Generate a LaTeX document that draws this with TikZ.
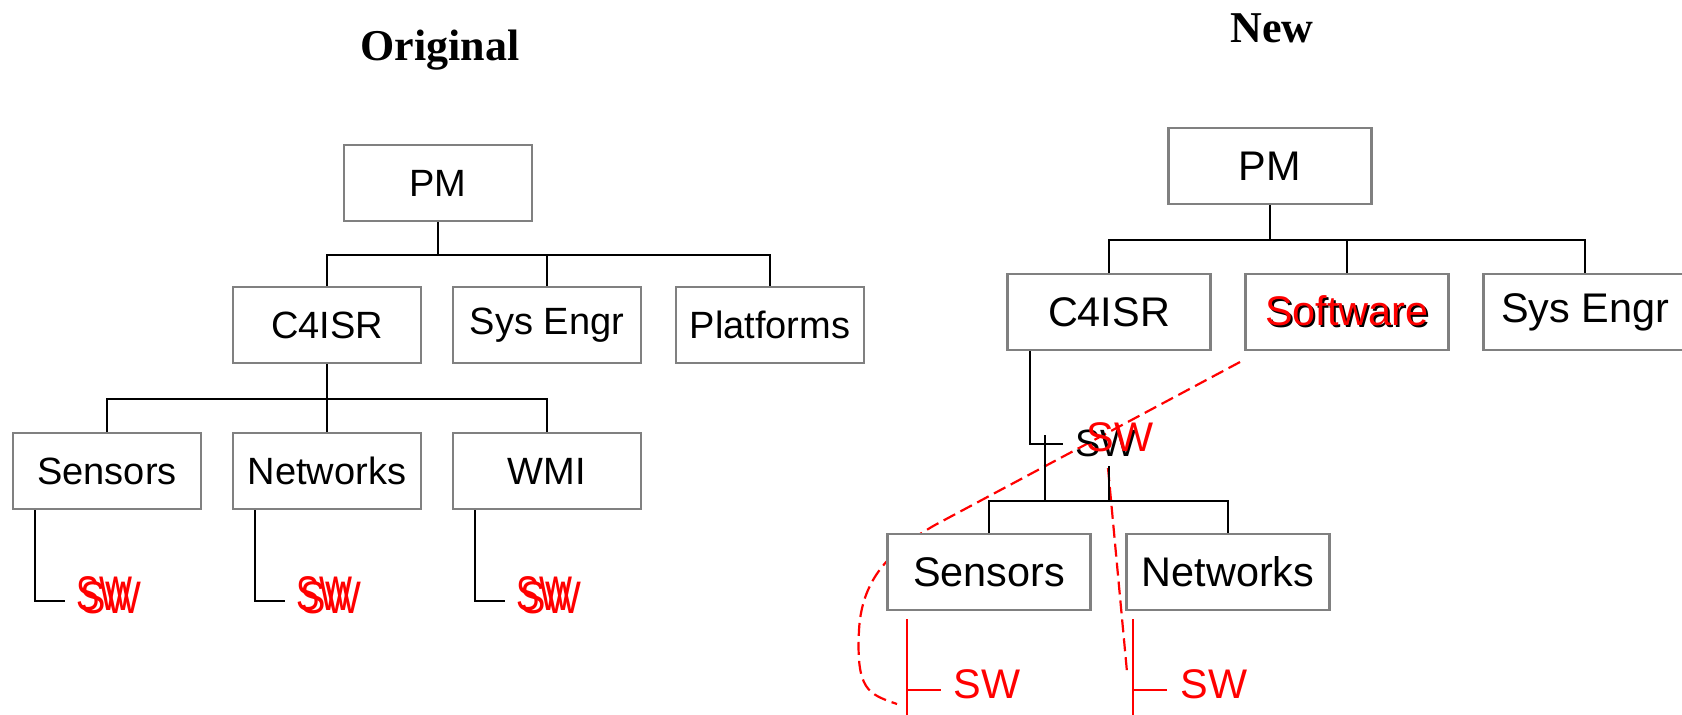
\documentclass[tikz,border=0pt]{standalone}
\usepackage{fontspec}
\setmainfont{Liberation Sans}
\newfontfamily\titlefont{Liberation Serif}
\usepackage{tikz}
\usetikzlibrary{calc}

\tikzset{
  orgbox/.style={draw=gray, line width=1.35pt, fill=white, minimum width=94pt, minimum height=38pt, inner sep=0pt, font=\fontsize{19}{22}\selectfont},
  orgboxnew/.style={orgbox, minimum width=101.5pt, font=\fontsize{20.7}{24}\selectfont},
  link/.style={line width=1pt},
  swline/.style={red, line width=1pt},
  swtext/.style={anchor=base west, inner sep=0pt, text=red, font=\fontsize{19}{22}\selectfont},
  swtextnew/.style={swtext, font=\fontsize{20.7}{24}\selectfont},
  lasso/.style={red, line width=1.1pt, dash pattern=on 6.5pt off 3pt},
  heading/.style={anchor=base, font=\titlefont\bfseries\fontsize{22}{26}\selectfont}
}

\begin{document}
\begin{tikzpicture}[x=0.5pt, y=-0.5pt]
\useasboundingbox (0,0) rectangle (1682,714);

% titles
\node[heading] (orig) at (440,60) {Original};
\node[heading] (new) at (1272,42) {New};

% original chart
\node[orgbox] (pm1) at (438,183) {PM};
\node[orgbox] (c4isr1) at (327,325) {C4ISR};
\node[orgbox] (sys1) at (547,325) {Sys Engr};
\node[orgbox] (plat1) at (770,325) {Platforms};
\node[orgbox] (sen1) at (107,471) {Sensors};
\node[orgbox] (net1) at (327,471) {Networks};
\node[orgbox] (wmi1) at (547,471) {WMI};

\draw[link] (pm1.south) -- ++(0,33) coordinate (b1);
\draw[link] (c4isr1.north) |- (b1) -| (plat1.north);
\draw[link] (sys1.north) -- (sys1.north |- b1);
\draw[link] (c4isr1.south) -- ++(0,35) coordinate (b2);
\draw[link] (sen1.north) |- (b2) -| (wmi1.north);
\draw[link] (net1.north) -- (b2);

% SW under each unit
\coordinate (e1) at ($(sen1.south west)+(53,91)$);
\coordinate (e2) at ($(net1.south west)+(53,91)$);
\coordinate (e3) at ($(wmi1.south west)+(53,91)$);
\draw[link] ($(sen1.south west)+(23,0)$) |- (e1);
\draw[link] ($(net1.south west)+(23,0)$) |- (e2);
\draw[link] ($(wmi1.south west)+(23,0)$) |- (e3);
\node[swtext] (sw1a) at ($(sen1.south west)+(64,100)$) {\scalebox{0.92}[1.28]{SW}};
\node[swtext] (sw1b) at ($(sen1.south west)+(68,103)$) {\scalebox{1}[1.2]{SW}};
\node[swtext] (sw2a) at ($(net1.south west)+(64,100)$) {\scalebox{0.92}[1.28]{SW}};
\node[swtext] (sw2b) at ($(net1.south west)+(68,103)$) {\scalebox{1}[1.2]{SW}};
\node[swtext] (sw3a) at ($(wmi1.south west)+(64,100)$) {\scalebox{0.92}[1.28]{SW}};
\node[swtext] (sw3b) at ($(wmi1.south west)+(68,103)$) {\scalebox{1}[1.2]{SW}};

% new chart
\draw[lasso] (1240,362) -- (935,525) .. controls (895,548) and (862,575) .. (859,630)
  .. controls (856,690) and (868,694) .. (897,704);
\draw[lasso] (1108,468) -- (1127,672);

\node[orgboxnew] (pm2) at (1270,166) {PM};
\node[orgboxnew] (c4isr2) at (1109,312) {C4ISR};
\node[orgboxnew] (soft2) at (1347,312) {\rlap{\kern0.9pt\raisebox{-0.9pt}{Software}}\textcolor{red}{Software}};
\node[orgboxnew] (sys2) at (1585,312) {Sys Engr};
\node[orgboxnew] (sen2) at (989,572) {Sensors};
\node[orgboxnew] (net2) at (1228,572) {Networks};

\draw[link] (pm2.south) -- ++(0,35) coordinate (b3);
\draw[link] (c4isr2.north) |- (b3) -| (sys2.north);
\draw[link] (soft2.north) -- (soft2.north |- b3);

\coordinate (e4) at ($(c4isr2.south west)+(57,93)$);
\draw[link] ($(c4isr2.south west)+(24,0)$) |- (e4);
\draw[link] ($(c4isr2.south)+(0,115)$) -- ++(0,35) coordinate (b4);
\draw[link] (sen2.north) |- (b4) -| (net2.north);
\draw[link] ($(c4isr2.south west)+(39,84)$) -- ($(c4isr2.south west)+(39,150)$);
\node[swtext, text=black] (sw4) at ($(c4isr2.south west)+(69,105)$) {SW};
\node[swtextnew] (sw5) at ($(c4isr2.south west)+(80,100)$) {SW};

% SW moved under sensors and networks
\coordinate (r1) at ($(sen2.south west)+(21,8)$);
\coordinate (e5) at ($(sen2.south west)+(55,79)$);
\draw[swline] (r1) -- ++(0,110);
\draw[swline] (r1 |- e5) -- (e5);
\node[swtextnew] (sw6) at ($(sen2.south west)+(67,87)$) {SW};
\coordinate (r2) at ($(net2.south west)+(8,8)$);
\coordinate (e6) at ($(net2.south west)+(42,79)$);
\draw[swline] (r2) -- ++(0,110);
\draw[swline] (r2 |- e6) -- (e6);
\node[swtextnew] (sw7) at ($(net2.south west)+(55,87)$) {SW};
\end{tikzpicture}
\end{document}
